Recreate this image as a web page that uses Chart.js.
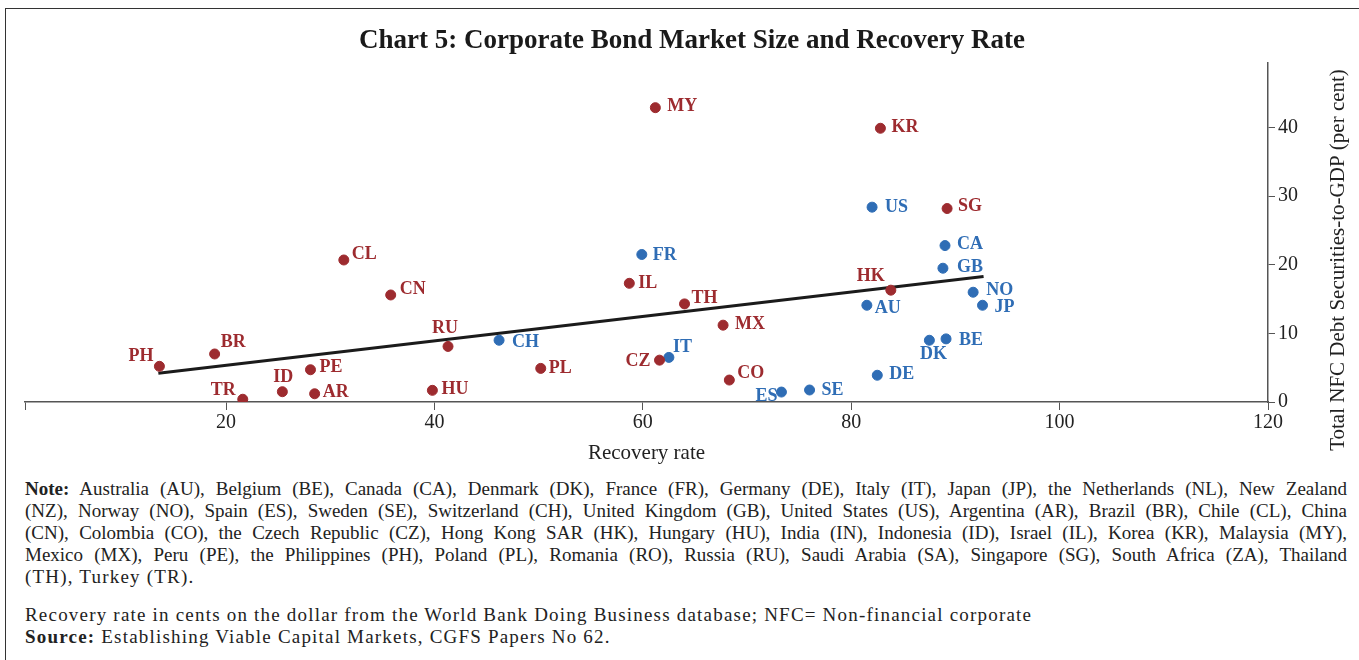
<!DOCTYPE html>
<html>
<head>
<meta charset="utf-8">
<script src="https://cdn.jsdelivr.net/npm/chart.js@4.4.1/dist/chart.umd.min.js"></script>
<style>
  html, body { margin: 0; padding: 0; background: #fff; }
  body { width: 1359px; height: 660px; position: relative; overflow: hidden; font-family: 'Liberation Serif', serif; }
  .frame { position: absolute; left: 5px; top: 8px; width: 1380px; height: 700px; border: 1.5px solid #333; }
  .chart-box { position: absolute; left: 0; top: 0; width: 1359px; height: 470px; }
  .notes { position: absolute; left: 25px; top: 478px; width: 1322px; font-size: 19px; line-height: 22px; color: #222; }
  .notes .j { text-align: justify; text-align-last: justify; white-space: nowrap; }
  .notes .w { letter-spacing: 1.2px; }
  .notes .gap { height: 16px; }
</style>
</head>
<body>
<div class="frame"></div>
<div class="chart-box"><canvas id="chart5"></canvas></div>
<div class="notes">
  <div class="j"><b>Note:</b> Australia (AU), Belgium (BE), Canada (CA), Denmark (DK), France (FR), Germany (DE), Italy (IT), Japan (JP), the Netherlands (NL), New Zealand</div>
  <div class="j">(NZ), Norway (NO), Spain (ES), Sweden (SE), Switzerland (CH), United Kingdom (GB), United States (US), Argentina (AR), Brazil (BR), Chile (CL), China</div>
  <div class="j">(CN), Colombia (CO), the Czech Republic (CZ), Hong Kong SAR (HK), Hungary (HU), India (IN), Indonesia (ID), Israel (IL), Korea (KR), Malaysia (MY),</div>
  <div class="j">Mexico (MX), Peru (PE), the Philippines (PH), Poland (PL), Romania (RO), Russia (RU), Saudi Arabia (SA), Singapore (SG), South Africa (ZA), Thailand</div>
  <div class="w">(TH), Turkey (TR).</div>
  <div class="gap"></div>
  <div class="w">Recovery rate in cents on the dollar from the World Bank Doing Business database; NFC= Non-financial corporate</div>
  <div class="w"><b>Source:</b> Establishing Viable Capital Markets, CGFS Papers No 62.</div>
</div>
<script>
// Economías emergentes (rojo)
const emCodes = ['PH', 'BR', 'TR', 'ID', 'PE', 'AR', 'CL', 'CN', 'HU', 'RU', 'PL', 'IL', 'MY', 'CZ', 'TH', 'MX', 'CO', 'KR', 'HK', 'SG'];
const emRecovery = [13.6, 18.9, 21.6, 25.4, 28.1, 28.5, 31.3, 35.8, 39.8, 41.3, 50.2, 58.7, 61.2, 61.6, 64.0, 67.7, 68.3, 82.8, 83.8, 89.2];
const emDebt = [5.2, 7.0, 0.4, 1.5, 4.7, 1.2, 20.7, 15.6, 1.7, 8.1, 4.9, 17.3, 42.9, 6.1, 14.3, 11.2, 3.2, 39.9, 16.3, 28.2];

// Economías avanzadas (azul)
const aeCodes = ['CH', 'FR', 'IT', 'ES', 'SE', 'US', 'AU', 'DE', 'DK', 'BE', 'CA', 'GB', 'NO', 'JP'];
const aeRecovery = [46.2, 59.9, 62.5, 73.3, 76.0, 82.0, 81.5, 82.5, 87.5, 89.1, 89.0, 88.8, 91.7, 92.6];
const aeDebt = [9.0, 21.5, 6.5, 1.45, 1.75, 28.4, 14.1, 3.9, 9.0, 9.2, 22.8, 19.5, 16.0, 14.1];

// Línea de tendencia
const trendRecovery = [13.5, 92.7];
const trendDebt = [4.2, 18.3];

const xTicks = [20, 40, 60, 80, 100, 120];
const yTicks = [0, 10, 20, 30, 40];

const RED = '#9d2b2f';
const BLUE = '#2f6db5';
const FONT = 'Liberation Serif';

// Posición de cada etiqueta respecto a su punto: [dx, dy, align]
const labelPlacement = {
    PH: [-6, -10, 'right'], BR: [6, -12, 'left'], TR: [-7, -9, 'right'], ID: [1, -14, 'center'],
    PE: [9, -2, 'left'], AR: [8, -1, 'left'], CL: [8, -6, 'left'], CN: [9, -6, 'left'],
    HU: [9, -1, 'left'], RU: [-3, -18, 'center'], PL: [8, 0, 'left'], IL: [9, 0, 'left'],
    MY: [12, -1, 'left'], CZ: [-9, 1, 'right'], TH: [7, -6, 'left'], MX: [12, -1, 'left'],
    CO: [8, -7, 'left'], KR: [11, -1, 'left'], HK: [-6, -14, 'right'], SG: [11, -2, 'left'],
    CH: [13, 2, 'left'], FR: [11, 1, 'left'], IT: [4, -10, 'left'], ES: [-4, 4, 'right'],
    SE: [12, 0, 'left'], US: [13, 0, 'left'], AU: [8, 3, 'left'], DE: [12, -1, 'left'],
    DK: [4, 14, 'center'], BE: [13, 1, 'left'], CA: [12, -1, 'left'], GB: [14, -1, 'left'],
    NO: [13, -2, 'left'], JP: [12, 2, 'left']
};

const toPoints = (xs, ys) => xs.map((x, i) => ({ x: x, y: ys[i] }));

// Etiquetas de país junto a cada punto
const pointLabels = {
    id: 'pointLabels',
    afterDatasetsDraw(chart) {
        const ctx = chart.ctx;
        ctx.save();
        ctx.font = 'bold 18px ' + FONT;
        ctx.textBaseline = 'middle';
        chart.data.datasets.forEach((ds, di) => {
            if (!ds.codes) return;
            const meta = chart.getDatasetMeta(di);
            ctx.fillStyle = ds.backgroundColor;
            meta.data.forEach((pt, i) => {
                const code = ds.codes[i];
                const p = labelPlacement[code] || [10, 0, 'left'];
                ctx.textAlign = p[2];
                ctx.fillText(code, pt.x + p[0], pt.y + p[1]);
            });
        });
        ctx.restore();
    }
};

// Título del eje Y, de abajo hacia arriba
const yTitle = {
    id: 'yTitle',
    afterDraw(chart) {
        const ctx = chart.ctx;
        const area = chart.chartArea;
        ctx.save();
        ctx.font = '21px ' + FONT;
        ctx.fillStyle = '#222';
        ctx.textAlign = 'center';
        ctx.textBaseline = 'middle';
        ctx.translate(area.right + 70, 260);
        ctx.rotate(-Math.PI / 2);
        ctx.fillText('Total NFC Debt Securities-to-GDP (per cent)', 0, 0);
        ctx.restore();
    }
};

const ctx = document.getElementById('chart5');

new Chart(ctx, {
    type: 'scatter',
    data: {
        datasets: [
            {
                label: 'EME',
                codes: emCodes,
                data: toPoints(emRecovery, emDebt),
                backgroundColor: RED,
                borderColor: RED,
                pointRadius: 5,
                pointHoverRadius: 5
            },
            {
                label: 'AE',
                codes: aeCodes,
                data: toPoints(aeRecovery, aeDebt),
                backgroundColor: BLUE,
                borderColor: BLUE,
                pointRadius: 5,
                pointHoverRadius: 5
            },
            {
                label: 'Trend',
                data: toPoints(trendRecovery, trendDebt),
                showLine: true,
                borderColor: '#1b1b1b',
                borderWidth: 3,
                pointRadius: 0
            }
        ]
    },
    options: {
        responsive: true,
        maintainAspectRatio: false,
        animation: false,
        layout: { padding: { left: 25, right: 0, top: 0, bottom: 0 } },
        plugins: {
            legend: { display: false },
            tooltip: { enabled: false },
            title: {
                display: true,
                text: 'Chart 5: Corporate Bond Market Size and Recovery Rate',
                color: '#1a1a1a',
                font: { family: FONT, size: 27, weight: 'bold', lineHeight: 1.2 },
                padding: { top: 25, bottom: 5 }
            }
        },
        scales: {
            x: {
                type: 'linear',
                position: 'bottom',
                min: 0.7,
                max: 120,
                afterBuildTicks: (scale) => {
                    scale.ticks = [{ value: scale.min }].concat(xTicks.map(v => ({ value: v })));
                },
                afterFit: (scale) => { scale.height = 68; },
                grid: { drawOnChartArea: false, drawTicks: true, tickLength: 8, color: '#555' },
                border: { color: '#555', width: 1.5 },
                ticks: {
                    color: '#222',
                    font: { family: FONT, size: 20 },
                    padding: 1,
                    maxRotation: 0,
                    callback: (v) => xTicks.includes(v) ? String(v) : ''
                },
                title: {
                    display: true,
                    text: 'Recovery rate',
                    color: '#222',
                    font: { family: FONT, size: 21 },
                    padding: { top: 5 }
                }
            },
            y: {
                type: 'linear',
                position: 'right',
                min: 0,
                max: 49.5,
                afterBuildTicks: (scale) => {
                    scale.ticks = yTicks.map(v => ({ value: v }));
                },
                afterFit: (scale) => { scale.width = 91; },
                grid: { drawOnChartArea: false, drawTicks: true, tickLength: 7, color: '#555' },
                border: { color: '#555', width: 1.5 },
                ticks: {
                    color: '#222',
                    font: { family: FONT, size: 20 },
                    padding: 3
                }
            }
        }
    },
    plugins: [pointLabels, yTitle]
});
</script>
</body>
</html>
